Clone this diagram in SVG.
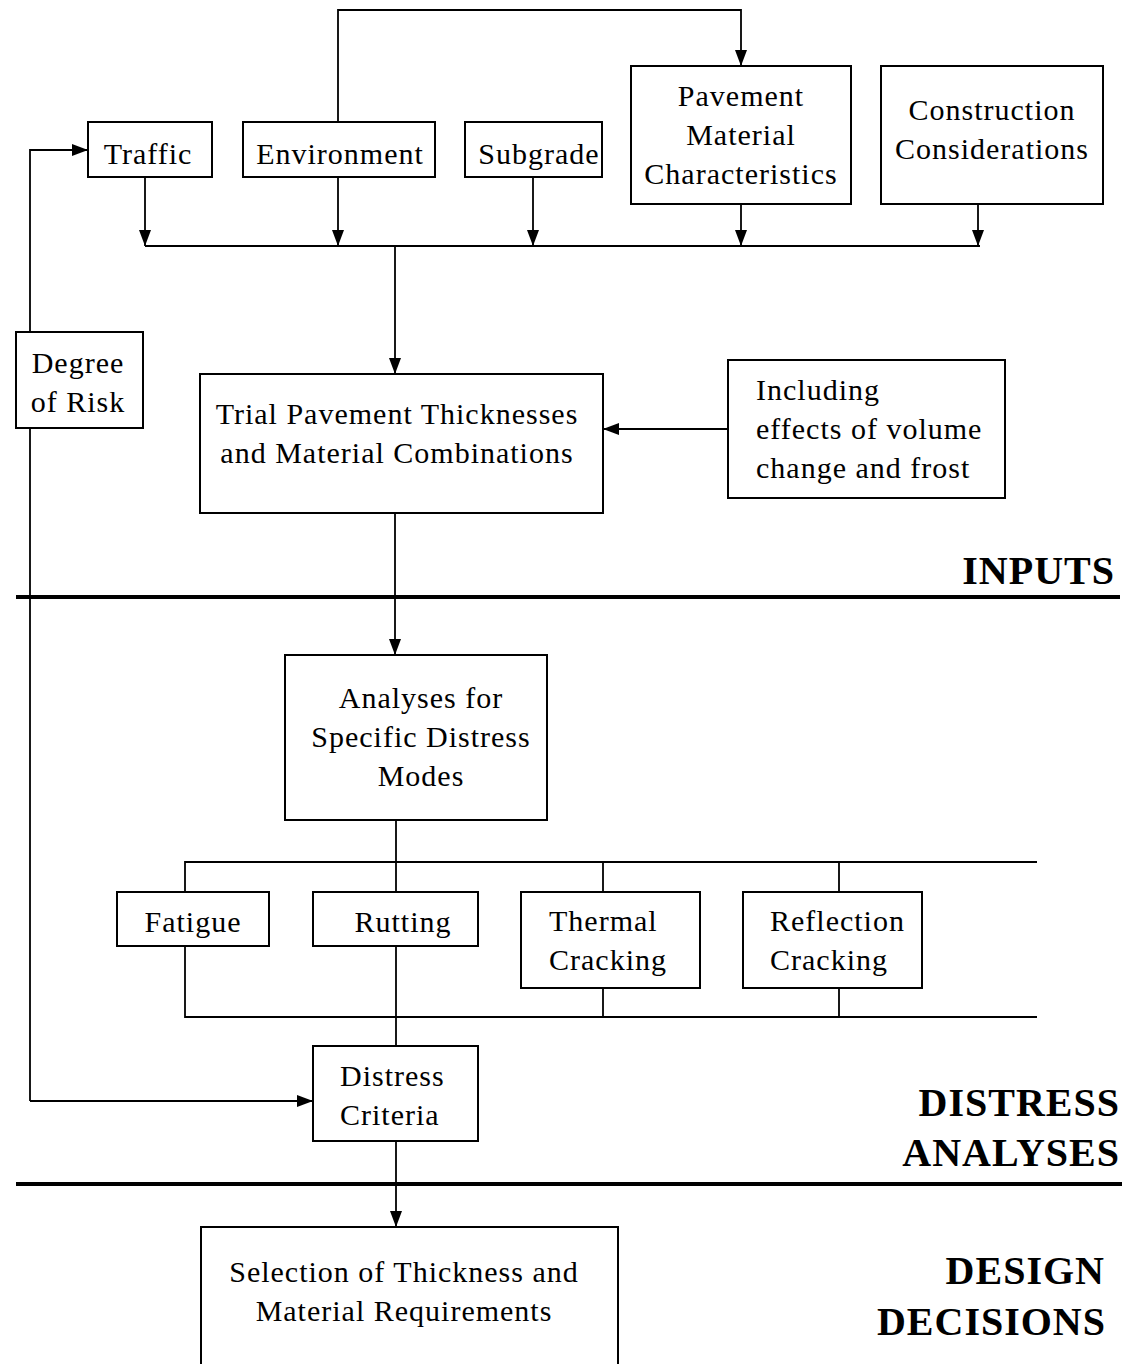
<svg xmlns="http://www.w3.org/2000/svg" width="1133" height="1364" viewBox="0 0 1133 1364">
<style>
.box{fill:#fff;stroke:#000;stroke-width:2}
.c{fill:none;stroke:#000;stroke-width:1.8}
.sec{fill:none;stroke:#000;stroke-width:4}
text{font-family:"Liberation Serif","Times New Roman",serif;font-size:30px;letter-spacing:1px;fill:#000}
.m{text-anchor:middle}
.h{font-weight:bold;font-size:40px;text-anchor:end}
</style>
<defs>
<marker id="ah" markerUnits="userSpaceOnUse" markerWidth="16" markerHeight="12" refX="16" refY="6" orient="auto">
<path d="M0,0 L16,6 L0,12 z" fill="#000"/>
</marker>
</defs>
<rect width="1133" height="1364" fill="#fff"/>
<g id="connectors">
<path class="c" d="M338,122 V10 H741 V66" marker-end="url(#ah)"/>
<path class="c" d="M145,177 V246" marker-end="url(#ah)"/>
<path class="c" d="M338,177 V246" marker-end="url(#ah)"/>
<path class="c" d="M533,177 V246" marker-end="url(#ah)"/>
<path class="c" d="M741,204 V246" marker-end="url(#ah)"/>
<path class="c" d="M978,204 V246" marker-end="url(#ah)"/>
<path class="c" d="M145,246 H980"/>
<path class="c" d="M395,246 V374" marker-end="url(#ah)"/>
<path class="c" d="M728,429 H603" marker-end="url(#ah)"/>
<path class="c" d="M30,1101 V150 H88" marker-end="url(#ah)"/>
<path class="c" d="M30,1101 H313" marker-end="url(#ah)"/>
<path class="c" d="M395,513 V655" marker-end="url(#ah)"/>
<path class="c" d="M396,820 V1046"/>
<path class="c" d="M185,892 V862 H1037"/>
<path class="c" d="M603,862 V892"/>
<path class="c" d="M839,862 V892"/>
<path class="c" d="M185,946 V1017 H1037"/>
<path class="c" d="M603,988 V1017"/>
<path class="c" d="M839,988 V1017"/>
<path class="c" d="M396,1141 V1227" marker-end="url(#ah)"/>
<path class="sec" d="M16,597 H1120"/>
<path class="sec" d="M16,1184 H1122"/>
</g>
<g id="traffic"><rect class="box" x="88" y="122" width="124" height="55"/><text class="m" x="148" y="164">Traffic</text></g>
<g id="environment"><rect class="box" x="243" y="122" width="192" height="55"/><text class="m" x="340" y="164">Environment</text></g>
<g id="subgrade"><rect class="box" x="465" y="122" width="137" height="55"/><text class="m" x="539" y="164">Subgrade</text></g>
<g id="pavement"><rect class="box" x="631" y="66" width="220" height="138"/><text class="m" x="741" y="106">Pavement</text><text class="m" x="741" y="145">Material</text><text class="m" x="741" y="184">Characteristics</text></g>
<g id="construction"><rect class="box" x="881" y="66" width="222" height="138"/><text class="m" x="992" y="120">Construction</text><text class="m" x="992" y="159">Considerations</text></g>
<g id="risk"><rect class="box" x="16" y="332" width="127" height="96"/><text class="m" x="78" y="373">Degree</text><text class="m" x="78" y="412">of Risk</text></g>
<g id="trial"><rect class="box" x="200" y="374" width="403" height="139"/><text class="m" x="397" y="424">Trial Pavement Thicknesses</text><text class="m" x="397" y="463">and Material Combinations</text></g>
<g id="including"><rect class="box" x="728" y="360" width="277" height="138"/><text x="756" y="400">Including</text><text x="756" y="439">effects of volume</text><text x="756" y="478">change and frost</text></g>
<g id="analyses"><rect class="box" x="285" y="655" width="262" height="165"/><text class="m" x="421" y="708">Analyses for</text><text class="m" x="421" y="747">Specific Distress</text><text class="m" x="421" y="786">Modes</text></g>
<g id="fatigue"><rect class="box" x="117" y="892" width="152" height="54"/><text class="m" x="193" y="932">Fatigue</text></g>
<g id="rutting"><rect class="box" x="313" y="892" width="165" height="54"/><text class="m" x="403" y="932">Rutting</text></g>
<g id="thermal"><rect class="box" x="521" y="892" width="179" height="96"/><text x="549" y="931">Thermal</text><text x="549" y="970">Cracking</text></g>
<g id="reflection"><rect class="box" x="743" y="892" width="179" height="96"/><text x="770" y="931">Reflection</text><text x="770" y="970">Cracking</text></g>
<g id="criteria"><rect class="box" x="313" y="1046" width="165" height="95"/><text x="340" y="1086">Distress</text><text x="340" y="1125">Criteria</text></g>
<g id="selection"><rect class="box" x="201" y="1227" width="417" height="150"/><text class="m" x="404" y="1282">Selection of Thickness and</text><text class="m" x="404" y="1321">Material Requirements</text></g>
<g id="labels">
<text class="h" x="1115" y="584">INPUTS</text>
<text class="h" x="1120" y="1116">DISTRESS</text>
<text class="h" x="1120" y="1166">ANALYSES</text>
<text class="h" x="1105" y="1284">DESIGN</text>
<text class="h" x="1106" y="1335">DECISIONS</text>
</g>
</svg>
